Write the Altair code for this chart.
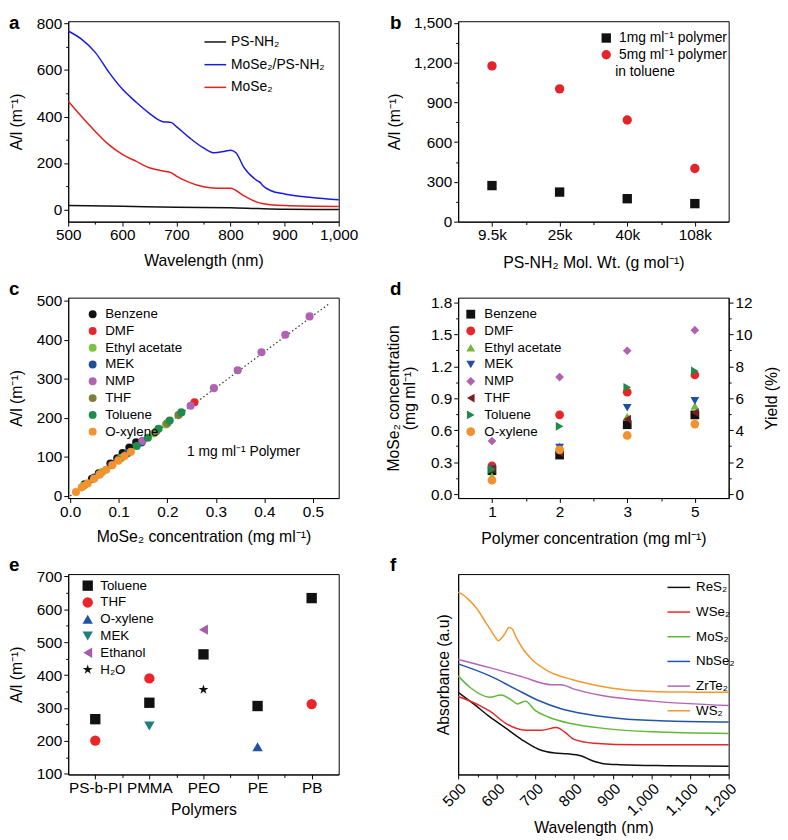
import json
import altair as alt
import pandas as pd

FONT = "Liberation Sans"
PW, PH = 274, 203

# ---------------- panel a : spectra ----------------
a_series = ["PS-NH₂", "MoSe₂/PS-NH₂", "MoSe₂"]
a_colors = ["#111111", "#1a1ae6", "#e61e1e"]
a_black_wl = [500, 600, 700, 800, 850, 900, 1000]
a_black = [17, 14, 10, 8, 4, 1, 0]
a_blue_wl = [500, 525, 550, 575, 600, 625, 650, 675, 690, 700, 725, 750, 770, 790, 800, 810,
             825, 850, 855, 860, 875, 900, 950, 1000]
a_blue = [768, 732, 676, 591, 518, 463, 414, 378, 375, 357, 307, 265, 244, 251, 255, 244,
          180, 123, 116, 102, 81, 67, 52, 42]
a_red_wl = [500, 525, 550, 575, 600, 625, 650, 675, 690, 700, 725, 750, 775, 800, 825, 850,
            875, 900, 1000]
a_red = [466, 399, 336, 279, 237, 208, 180, 166, 159, 144, 116, 98, 92, 92, 59, 31, 21, 17, 13]

# ---------------- panel b ----------------
b_cats = ["9.5k", "25k", "40k", "108k"]
b_series = ["1mg ml⁻¹ polymer", "5mg ml⁻¹ polymer"]
b_1mg = [272, 223, 173, 136]
b_5mg = [1175, 1002, 767, 401]

# ---------------- panel c ----------------
c_solvents = ["Benzene", "DMF", "Ethyl acetate", "MEK", "NMP", "THF", "Toluene", "O-xylene"]
c_colors = ["#111111", "#e8262a", "#7fc241", "#1f4e9c", "#b262b3", "#7e7e3a", "#1f8c4d", "#f4922e"]
c_benzene_x = [0.030, 0.045, 0.059, 0.083, 0.097, 0.108, 0.122, 0.136]
c_benzene_y = [30, 44, 58, 83, 96, 110, 124, 137]
c_dmf_x = [0.256]
c_dmf_y = [240]
c_ea_x = [0.028, 0.066, 0.105, 0.172, 0.197]
c_ea_y = [26, 61, 97, 160, 183]
c_mek_x = [0.050, 0.085, 0.118, 0.147]
c_mek_y = [47, 79, 109, 137]
c_nmp_x = [0.149, 0.248, 0.296, 0.345, 0.394, 0.443, 0.493]
c_nmp_y = [141, 231, 276, 322, 368, 413, 460]
c_thf_x = [0.060, 0.100, 0.177, 0.200, 0.223]
c_thf_y = [55, 93, 165, 186, 207]
c_tol_x = [0.137, 0.160, 0.182, 0.205, 0.229]
c_tol_y = [128, 149, 172, 193, 214]
c_oxy_x = [0.012, 0.024, 0.036, 0.049, 0.061, 0.074, 0.087, 0.099, 0.112, 0.125]
c_oxy_y = [10, 22, 32, 44, 55, 67, 79, 90, 102, 113]
c_fit_x = [0.0, 0.535]
c_fit_y = [0, 494]

# ---------------- panel d ----------------
d_cats = ["1", "2", "3", "5"]
d_solvents = c_solvents
d_colors = ["#111111", "#e8262a", "#72b83a", "#1f4fa0", "#b061b0", "#7a1f1f", "#1e8a46", "#f0922f"]
d_shapes = ["square", "circle", "triangle-up", "triangle-down", "diamond", "triangle-left",
            "triangle-right", "circle"]
d_benzene = [0.22, 0.367, 0.652, 0.744]
d_dmf = [0.265, 0.745, 0.958, 1.12]
d_ea = [0.17, 0.453, 0.729, 0.827]
d_mek = [0.235, 0.438, 0.811, 0.876]
d_nmp = [0.499, 1.10, 1.347, 1.54]
d_thf = [0.235, 0.39, 0.704, 0.765]
d_tol = [0.233, 0.637, 1.004, 1.157]
d_oxy = [0.13, 0.416, 0.551, 0.658]
d_yield_per_conc = 100 / 15.0  # 1.8 mg/ml <-> 12 %

# ---------------- panel e ----------------
e_cats = ["PS-b-PI", "PMMA", "PEO", "PE", "PB"]
e_series = ["Toluene", "THF", "O-xylene", "MEK", "Ethanol", "H₂O"]
e_colors = ["#111111", "#e8262a", "#2152a3", "#1f7f7f", "#a85aa8", "#111111"]
STAR = ("M0,-1L0.2245,-0.309L0.951,-0.309L0.363,0.118L0.588,0.809L0,0.382"
        "L-0.588,0.809L-0.363,0.118L-0.951,-0.309L-0.2245,-0.309Z")
e_shapes = ["square", "circle", "triangle-up", "triangle-down", "triangle-left", STAR]
e_toluene = [266, 316, 463, 306, 634]
e_thf = [201, 390, None, None, 312]
e_oxy = [None, None, None, 182, None]
e_mek = [None, 245, None, None, None]
e_ethanol = [None, None, 538, None, None]
e_h2o = [None, None, 356, None, None]

# ---------------- panel f ----------------
f_series = ["ReS₂", "WSe₂", "MoS₂", "NbSe₂", "ZrTe₂", "WS₂"]
f_colors = ["#111111", "#e8262a", "#5fb83a", "#2355a5", "#b464b4", "#f39a2d"]
f_res2_wl = [500, 540, 582, 624, 666, 708, 750, 783, 817, 851, 876, 918, 1044, 1200]
f_res2 = [0.410, 0.352, 0.287, 0.230, 0.172, 0.126, 0.107, 0.103, 0.093, 0.066, 0.054, 0.049, 0.044, 0.041]
f_wse2_wl = [500, 556, 582, 624, 674, 716, 754, 775, 800, 851, 960, 1200]
f_wse2 = [0.389, 0.344, 0.316, 0.254, 0.221, 0.221, 0.234, 0.213, 0.175, 0.156, 0.148, 0.148]
f_mos2_wl = [500, 531, 582, 611, 640, 653, 674, 699, 733, 792, 876, 1002, 1200]
f_mos2 = [0.492, 0.434, 0.385, 0.397, 0.369, 0.352, 0.366, 0.320, 0.287, 0.254, 0.230, 0.213, 0.205]
f_nbse2_wl = [500, 582, 649, 708, 766, 834, 918, 1044, 1200]
f_nbse2 = [0.552, 0.492, 0.426, 0.369, 0.328, 0.300, 0.279, 0.267, 0.262]
f_zrte2_wl = [500, 582, 666, 741, 766, 800, 876, 1002, 1200]
f_zrte2 = [0.574, 0.533, 0.487, 0.448, 0.448, 0.426, 0.393, 0.366, 0.344]
f_ws2_wl = [500, 515, 523, 548, 573, 598, 603, 619, 632, 640, 649, 666, 691, 733, 792, 876, 960, 1086, 1200]
f_ws2 = [0.910, 0.893, 0.880, 0.828, 0.754, 0.680, 0.667, 0.697, 0.733, 0.726, 0.689, 0.631,
         0.574, 0.516, 0.475, 0.438, 0.418, 0.411, 0.410]


# ---------------- helpers ----------------
def minor_axis(values, test, fmt=None, big=4.5, small=2.5, **kw):
    props = dict(values=values,
                 labelExpr="(" + test + ") ? datum.label : ''",
                 tickSize={"condition": {"test": test, "value": big}, "value": small},
                 labelFlush=False, labelOverlap=False, grid=False, titleFontWeight="normal")
    if fmt is not None:
        props["format"] = fmt
    props.update(kw)
    return alt.Axis(**props)


def cat_axis(cats, **kw):
    arr = json.dumps(cats, ensure_ascii=False)
    test = "datum.value % 1 === 0"
    values = [i * 0.5 for i in range(2 * len(cats) - 1)]
    return alt.Axis(values=values,
                    labelExpr="(" + test + ") ? " + arr + "[datum.value] : ''",
                    tickSize={"condition": {"test": test, "value": 4.5}, "value": 3},
                    labelFlush=False, labelOverlap=False, grid=False, titleFontWeight="normal", **kw)


def letter(ch, dx, dy):
    return alt.Chart(pd.DataFrame({"t": [ch]})).mark_text(
        font=FONT, fontSize=19, fontWeight="bold", align="left", baseline="alphabetic",
        color="black").encode(text="t:N", x=alt.value(dx), y=alt.value(dy))


def left_title(text, tx):
    return dict(title=text, titleX=tx, titleY=PH / 2, titleAngle=270, titleBaseline="alphabetic")


def bottom_title(text, ty):
    return dict(title=text, titleY=ty, titleBaseline="alphabetic")


def series_df(names, xs, ys, xname="x", yname="y", sname="s"):
    rows = []
    for n, xv, yv in zip(names, xs, ys):
        for a, b in zip(xv, yv):
            if b is not None:
                rows.append({xname: a, yname: b, sname: n})
    return pd.DataFrame(rows)


# ---------------- panel a ----------------
a_df = series_df(a_series, [a_black_wl, a_blue_wl, a_red_wl], [a_black, a_blue, a_red])
a_lines = alt.Chart(a_df).mark_line(strokeWidth=1.5, interpolate="monotone").encode(
    x=alt.X("x:Q", scale=alt.Scale(domain=[500, 1000], nice=False, zero=False),
            axis=minor_axis(list(range(500, 1001, 50)), "datum.value % 100 === 0", fmt=",d",
                            **bottom_title("Wavelength (nm)", 44))),
    y=alt.Y("y:Q", scale=alt.Scale(domain=[-52, 810], nice=False, zero=False),
            axis=minor_axis(list(range(0, 801, 100)), "datum.value % 200 === 0",
                            **left_title("A/l (m⁻¹)", -47))),
    color=alt.Color("s:N", scale=alt.Scale(domain=a_series, range=a_colors),
                    legend=alt.Legend(title=None, orient="none", legendX=137, legendY=9,
                                      symbolType="stroke", symbolSize=484, symbolStrokeWidth=1.5,
                                      labelFontSize=14, rowPadding=4, labelOffset=4, padding=0)),
)
panel_a = alt.layer(a_lines, letter("a", -60, 8)).properties(width=PW, height=PH)

# ---------------- panel b ----------------
b_df = series_df(b_series, [list(range(4)), list(range(4))], [b_1mg, b_5mg])
b_leg = alt.Legend(title=None, orient="none", legendX=143, legendY=10, symbolSize=90,
                   labelFontSize=14, rowPadding=3, labelOffset=6, padding=0)
b_pts = alt.Chart(b_df).mark_point(filled=True, opacity=1, size=90).encode(
    x=alt.X("x:Q", scale=alt.Scale(domain=[-0.5, 3.5], nice=False, zero=False),
            axis=cat_axis(b_cats, **bottom_title("PS-NH₂ Mol. Wt. (g mol⁻¹)", 46))),
    y=alt.Y("y:Q", scale=alt.Scale(domain=[0, 1512], nice=False, zero=False),
            axis=minor_axis(list(range(0, 1501, 150)), "datum.value % 300 === 0", fmt=",d",
                            **left_title("A/l (m⁻¹)", -59))),
    color=alt.Color("s:N", scale=alt.Scale(domain=b_series, range=["#111111", "#e3242b"]), legend=b_leg),
    shape=alt.Shape("s:N", scale=alt.Scale(domain=b_series, range=["square", "circle"]), legend=b_leg),
)
b_note = alt.Chart(pd.DataFrame({"t": ["in toluene"]})).mark_text(
    font=FONT, fontSize=14, align="left", baseline="middle", color="black").encode(
    text="t:N", x=alt.value(159), y=alt.value(51))
panel_b = alt.layer(b_pts, b_note, letter("b", -69, 8)).properties(width=PW, height=PH)

# ---------------- panel c ----------------
c_df = series_df(c_solvents,
                 [c_benzene_x, c_dmf_x, c_ea_x, c_mek_x, c_nmp_x, c_thf_x, c_tol_x, c_oxy_x],
                 [c_benzene_y, c_dmf_y, c_ea_y, c_mek_y, c_nmp_y, c_thf_y, c_tol_y, c_oxy_y])
c_fit = alt.Chart(pd.DataFrame({"x": c_fit_x, "y": c_fit_y})).mark_line(
    color="#333333", strokeDash=[1.5, 2.5], strokeWidth=1.2).encode(
    x=alt.X("x:Q", scale=alt.Scale(domain=[-0.004, 0.553], nice=False, zero=False),
            axis=minor_axis([i * 0.05 for i in range(11)], "round(datum.value*100) % 10 === 0",
                            fmt=".1f", **bottom_title("MoSe₂ concentration (mg ml⁻¹)", 44))),
    y=alt.Y("y:Q", scale=alt.Scale(domain=[-5.5, 508], nice=False, zero=False),
            axis=minor_axis(list(range(0, 501, 50)), "datum.value % 100 === 0",
                            **left_title("A/l (m⁻¹)", -47))),
)
c_pts = alt.Chart(c_df).mark_circle(opacity=1, size=68).encode(
    x="x:Q", y="y:Q",
    color=alt.Color("s:N", scale=alt.Scale(domain=c_solvents, range=c_colors),
                    legend=alt.Legend(title=None, orient="none", legendX=18, legendY=10,
                                      symbolType="circle", symbolSize=64, labelFontSize=13.5,
                                      rowPadding=2, labelOffset=6, padding=0)),
)
c_note = alt.Chart(pd.DataFrame({"t": ["1 mg ml⁻¹ Polymer"]})).mark_text(
    font=FONT, fontSize=14, align="center", baseline="middle", color="black").encode(
    text="t:N", x=alt.datum(0.357), y=alt.datum(112))
panel_c = alt.layer(c_fit, c_pts, c_note, letter("c", -60, -3)).properties(width=PW, height=PH)

# ---------------- panel d ----------------
d_vals = [d_benzene, d_dmf, d_ea, d_mek, d_nmp, d_thf, d_tol, d_oxy]
d_df = series_df(d_solvents, [list(range(4))] * len(d_solvents), d_vals)
d_df["yield"] = d_df["y"] * d_yield_per_conc
d_leg = alt.Legend(title=None, orient="none", legendX=6, legendY=10, symbolSize=80,
                   labelFontSize=13.5, rowPadding=2, labelOffset=7, padding=0)
d_ylo, d_yhi = -0.037, 1.846
d_pts = alt.Chart(d_df).mark_point(filled=True, opacity=1, size=78).encode(
    x=alt.X("x:Q", scale=alt.Scale(domain=[-0.5, 3.5], nice=False, zero=False),
            axis=cat_axis(d_cats, **bottom_title("Polymer concentration (mg ml⁻¹)", 46))),
    y=alt.Y("y:Q", scale=alt.Scale(domain=[d_ylo, d_yhi], nice=False, zero=False),
            axis=minor_axis([i * 0.15 for i in range(13)], "round(datum.value*100) % 30 === 0",
                            fmt=".1f", titleLineHeight=16,
                            **left_title(["MoSe₂ concentration", "(mg ml⁻¹)"], -60))),
    color=alt.Color("s:N", scale=alt.Scale(domain=d_solvents, range=d_colors), legend=d_leg),
    shape=alt.Shape("s:N", scale=alt.Scale(domain=d_solvents, range=d_shapes), legend=d_leg),
)
d_yield = alt.Chart(d_df).mark_point(opacity=0).encode(
    y=alt.Y("yield:Q",
            scale=alt.Scale(domain=[d_ylo * d_yield_per_conc, d_yhi * d_yield_per_conc],
                            nice=False, zero=False),
            axis=minor_axis(list(range(0, 13)), "datum.value % 2 === 0", orient="right",
                            title="Yield (%)", titleX=48, titleY=PH / 2, titleAngle=270,
                            titleBaseline="alphabetic")),
)
panel_d = alt.layer(d_pts, d_yield, letter("d", -69, -3)).resolve_scale(y="independent").properties(
    width=PW, height=PH)

# ---------------- panel e ----------------
e_vals = [e_toluene, e_thf, e_oxy, e_mek, e_ethanol, e_h2o]
e_df = series_df(e_series, [list(range(5))] * len(e_series), e_vals)
e_leg = alt.Legend(title=None, orient="none", legendX=13, legendY=5, symbolSize=110,
                   labelFontSize=13.5, rowPadding=2, labelOffset=6, padding=0)
e_pts = alt.Chart(e_df).mark_point(filled=True, opacity=1, size=110).encode(
    x=alt.X("x:Q", scale=alt.Scale(domain=[-0.5, 4.5], nice=False, zero=False),
            axis=cat_axis(e_cats, **bottom_title("Polymers", 41))),
    y=alt.Y("y:Q", scale=alt.Scale(domain=[98, 707], nice=False, zero=False),
            axis=minor_axis(list(range(100, 701, 50)), "datum.value % 100 === 0",
                            **left_title("A/l (m⁻¹)", -47))),
    color=alt.Color("s:N", scale=alt.Scale(domain=e_series, range=e_colors), legend=e_leg),
    shape=alt.Shape("s:N", scale=alt.Scale(domain=e_series, range=e_shapes), legend=e_leg),
)
panel_e = alt.layer(e_pts, letter("e", -60, -3)).properties(width=PW, height=PH)

# ---------------- panel f ----------------
f_df = series_df(f_series,
                 [f_res2_wl, f_wse2_wl, f_mos2_wl, f_nbse2_wl, f_zrte2_wl, f_ws2_wl],
                 [f_res2, f_wse2, f_mos2, f_nbse2, f_zrte2, f_ws2])
f_lines = alt.Chart(f_df).mark_line(strokeWidth=1.5, interpolate="monotone").encode(
    x=alt.X("x:Q", scale=alt.Scale(domain=[500, 1200], nice=False, zero=False),
            axis=minor_axis(list(range(500, 1201, 50)), "datum.value % 100 === 0", fmt=",d",
                            labelAngle=315, **bottom_title("Wavelength (nm)", 59))),
    y=alt.Y("y:Q", scale=alt.Scale(domain=[0, 1], nice=False, zero=False),
            axis=alt.Axis(labels=False, ticks=False, grid=False, titleFontWeight="normal",
                          **left_title("Absorbance (a.u)", -10))),
    color=alt.Color("s:N", scale=alt.Scale(domain=f_series, range=f_colors),
                    legend=alt.Legend(title=None, orient="none", legendX=211, legendY=1,
                                      symbolType="stroke", symbolSize=529, symbolStrokeWidth=1.5,
                                      labelFontSize=13.5, rowPadding=6, labelOffset=5, padding=0)),
)
panel_f = alt.layer(f_lines, letter("f", -69, -3)).properties(width=PW, height=PH)

chart = alt.concat(
    panel_a, panel_b, panel_c, panel_d, panel_e, panel_f,
    columns=2, spacing={"row": 77, "column": 121}, bounds="flush",
).resolve_scale(
    x="independent", y="independent", color="independent", shape="independent"
).properties(
    padding={"left": 0, "top": 0, "right": 0, "bottom": 0}
).configure(
    font=FONT
).configure_view(
    stroke="black", strokeWidth=1
).configure_axis(
    labelFont=FONT, titleFont=FONT, labelFontSize=15.5, titleFontSize=16,
    labelColor="black", titleColor="black", titleFontWeight="normal",
    domainColor="black", tickColor="black", tickWidth=1, domainWidth=1,
    labelPadding=2,
).configure_legend(
    labelFont=FONT, labelColor="black",
)

chart.save("out.html", embed_options={"renderer": "svg", "actions": False})
